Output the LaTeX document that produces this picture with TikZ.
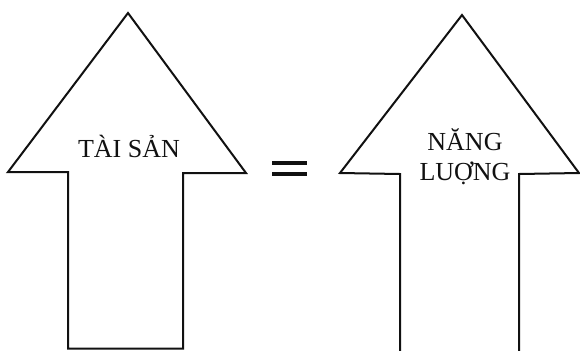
\documentclass[tikz,border=0pt]{standalone}
\usepackage{fontspec}
\setmainfont{Liberation Serif}
\usepackage{tikz}
\usetikzlibrary{positioning}
\definecolor{ink}{HTML}{111111}
\tikzset{
  arrowshape/.style={
    draw=ink, line width=1pt, line join=miter, fill=white
  },
  eqbar/.style={
    draw=ink, line width=2.4pt
  },
  labeltext/.style={
    font=\fontsize{13}{15}\selectfont, text=ink,
    inner sep=0pt, anchor=base
  },
}
\begin{document}
\begin{tikzpicture}[x=0.5pt, y=-0.5pt]
\useasboundingbox (0,0) rectangle (580,350);

% LEFT ARROW: closed at the bottom
\draw[arrowshape] (128,13) -- (246,173) -- (183,173) -- (183,348.5)
  -- (68,348.5) -- (68,172) -- (8,172) -- cycle;
\node[labeltext] (tai) at (129,157) {TÀI SẢN};

% EQUALS SIGN
\coordinate (eqa) at (272,163);
\coordinate (eqb) at (307,163);
\coordinate (eqc) at (272,174);
\coordinate (eqd) at (307,174);
\draw[eqbar] (eqa) -- (eqb);
\draw[eqbar] (eqc) -- (eqd);

% RIGHT ARROW: shaft runs off the bottom
\draw[arrowshape] (400,352) -- (400,174) -- (340,173) -- (462,15)
  -- (579,173) -- (519,174) -- (519,352);
\node[labeltext] (nang) at (465,150) {NĂNG};
\node[labeltext] (luong) at (465,180) {LUỢNG};

\end{tikzpicture}
\end{document}
